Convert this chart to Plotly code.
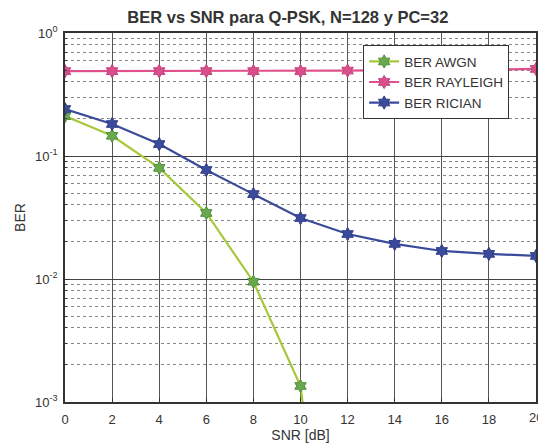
import plotly.graph_objects as go

snr = [0, 2, 4, 6, 8, 10, 12, 14, 16, 18, 20]
ber_awgn = [0.211, 0.146, 0.080, 0.0344, 0.0095, 0.00135, 1.5e-6]
ber_rayleigh = [0.49, 0.49, 0.49, 0.49, 0.49, 0.49, 0.495, 0.50, 0.50, 0.505, 0.51]
ber_rician = [0.241, 0.182, 0.125, 0.077, 0.049, 0.0313, 0.0232, 0.0193, 0.0169, 0.0160, 0.0154]

y_ticks = [1e-3, 1e-2, 1e-1, 1]
y_tick_text = ["10<sup>-3</sup>", "10<sup>-2</sup>", "10<sup>-1</sup>", "10<sup>0</sup>"]
x_ticks = snr

minor_vals = [m * 10 ** e for e in (-3, -2, -1) for m in range(2, 10)]

fig = go.Figure()
fig.add_trace(go.Scatter(
    x=snr[:len(ber_awgn)], y=ber_awgn, name="BER AWGN", mode="lines+markers",
    line=dict(color="#a6c83a", width=2.2),
    marker=dict(symbol="hexagram", size=10, color="#6aa84f", line=dict(color="#4f8f3a", width=1)),
))
fig.add_trace(go.Scatter(
    x=snr, y=ber_rayleigh, name="BER RAYLEIGH", mode="lines+markers",
    line=dict(color="#e0508c", width=2.2),
    marker=dict(symbol="hexagram", size=10, color="#d94f8a", line=dict(color="#c0407a", width=1)),
))
fig.add_trace(go.Scatter(
    x=snr, y=ber_rician, name="BER RICIAN", mode="lines+markers",
    line=dict(color="#3b4b9b", width=2.2),
    marker=dict(symbol="hexagram", size=10, color="#3b4b9b", line=dict(color="#2e3c85", width=1)),
))

font = "Liberation Sans, Arial, sans-serif"
fig.update_layout(
    width=538, height=443,
    margin=dict(l=65, r=2, t=33, b=41),
    paper_bgcolor="white", plot_bgcolor="white",
    font=dict(family=font, size=13, color="#333333"),
    title=dict(text="<b>BER vs SNR para Q-PSK, N=128 y PC=32</b>", x=0.535, xanchor="center",
               yref="container", y=1 - 17 / 443, yanchor="middle",
               font=dict(size=16.5, color="#333333", family=font)),
    showlegend=True,
    legend=dict(x=0.633, y=0.967, xanchor="left", yanchor="top",
                bgcolor="white", bordercolor="#333333", borderwidth=1,
                font=dict(size=13.5, color="#333333"), tracegroupgap=0),
    xaxis=dict(range=[0, 20], tickvals=x_ticks, showgrid=True, gridcolor="#555555", gridwidth=1.2,
               showline=True, linecolor="#333333", linewidth=1.5, mirror=True, zeroline=False,
               ticks="inside", ticklen=4, tickcolor="#333333", ticklabelstandoff=5,
               automargin=False,
               title=dict(text="SNR [dB]", font=dict(size=14), standoff=2)),
    yaxis=dict(type="log", range=[-3, 0], tickvals=y_ticks, ticktext=y_tick_text,
               showgrid=True, gridcolor="#444444", gridwidth=1.4,
               showline=True, linecolor="#333333", linewidth=1.5, mirror=True, zeroline=False,
               ticks="inside", ticklen=4, tickcolor="#333333", ticklabelstandoff=3,
               automargin=False,
               minor=dict(tickvals=minor_vals, showgrid=True, griddash="dot", gridcolor="#888888",
                          gridwidth=1, ticks="inside", ticklen=2, tickcolor="#333333"),
               title=dict(text="BER", font=dict(size=14), standoff=6)),
)

# the last x tick label, partly outside the right edge as in the reference
fig.add_annotation(x=20, xref="x", y=0, yref="paper", yanchor="top", yshift=-6,
                   text=str(x_ticks[-1]), showarrow=False, font=dict(size=13, color="#333333"))

fig.write_html("out.html", config={"displayModeBar": False},
               post_script="document.body.style.margin='0';document.body.style.overflow='hidden';")
